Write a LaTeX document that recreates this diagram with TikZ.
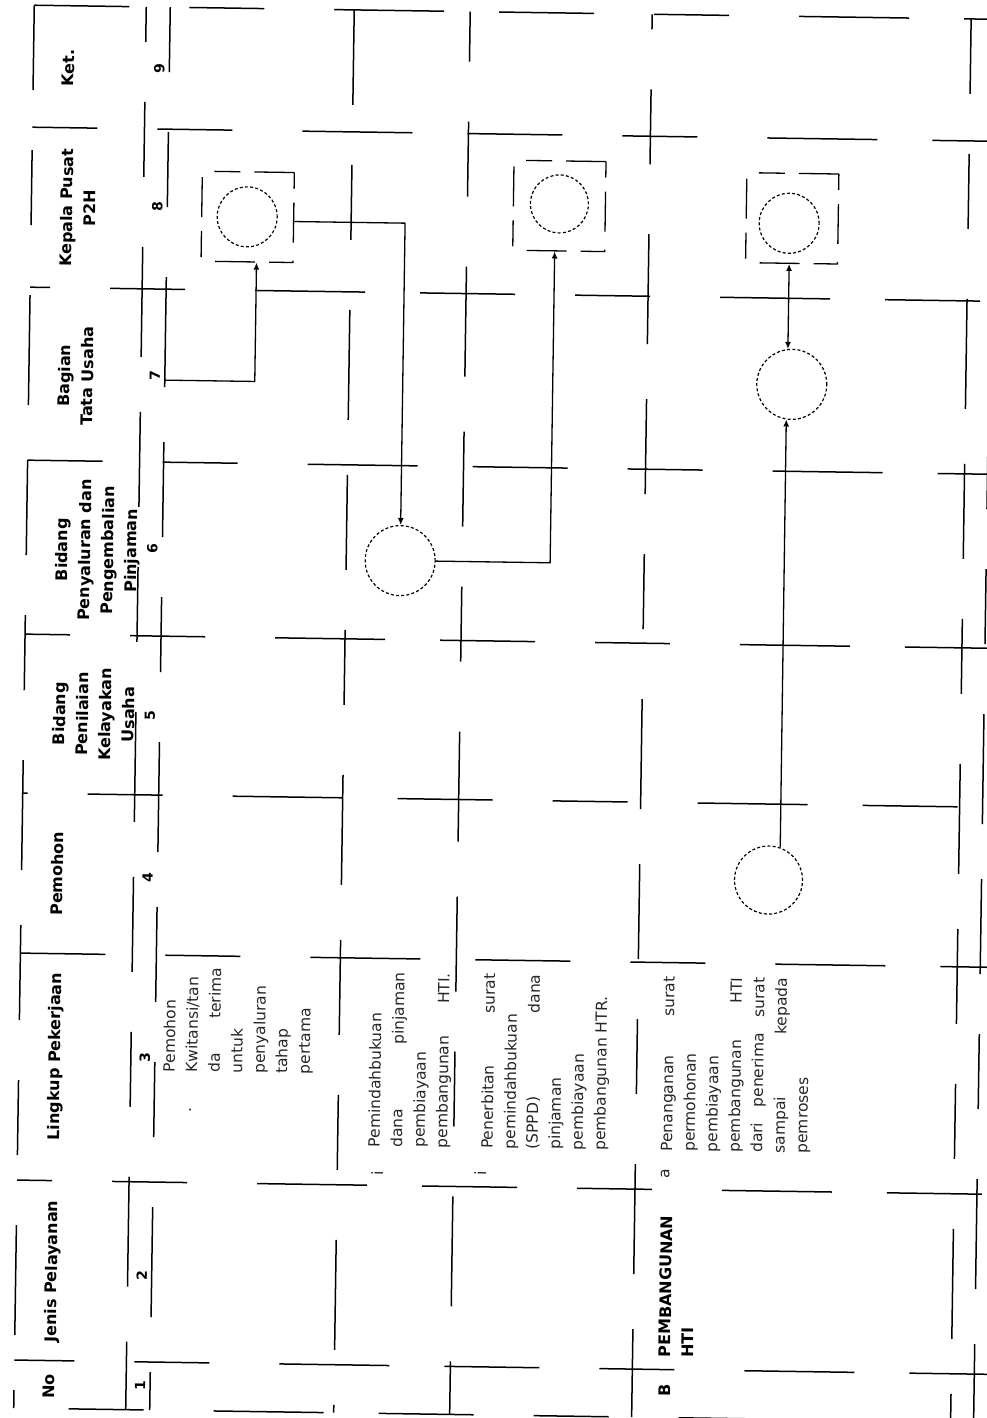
\documentclass[tikz,border=0pt]{standalone}
\usepackage{fontspec}
\setmainfont{DejaVu Sans}
\usetikzlibrary{arrows.meta}
\newcommand{\jst}[2]{\makebox[#1][s]{#2}}
\begin{document}
\begin{tikzpicture}[x=1pt,y=-1pt]
\useasboundingbox (0,0) rectangle (987,1418);
\clip (0,0) rectangle (987,1418);
\begin{scope}[rotate around={-0.84:(493.5,709)}, transform shape,
  gline/.style={line width=1.5pt, dash pattern=on 95pt off 60pt on 75pt off 70pt on 110pt off 55pt},
  frm/.style={draw, line width=1.3pt, dash pattern=on 40pt off 14pt on 26pt off 18pt, minimum width=92pt, minimum height=90pt, inner sep=0pt},
  act/.style={circle, draw, line width=1.2pt, dash pattern=on 3pt off 2.2pt, inner sep=0pt},
  conn/.style={line width=1.3pt, -{Latex[length=7pt,width=6pt]}},
  hdr/.style={rotate=90, anchor=north, align=center, inner sep=0pt, font=\bfseries\fontsize{16}{23}\selectfont},
  num/.style={rotate=90, inner sep=0pt, font=\bfseries\fontsize{14}{16}\selectfont},
  body/.style={rotate=90, anchor=north west, align=left, inner sep=0pt, text=black!85, font=\fontsize{15.5}{22.5}\selectfont},
  lmark/.style={rotate=90, inner sep=0pt, text=black!85, font=\fontsize{15.5}{22.5}\selectfont},
  lbl/.style={rotate=90, anchor=north west, align=left, inner sep=0pt, font=\bfseries\fontsize{16}{23}\selectfont}
]
% table grid
\foreach \v/\p in {12/0,134/30,294/75,467/20,641/50,800/90,960/10,1187/60,1367/35,1415/100}
  \draw[gline, dash phase=\p pt] (24,\v) -- (1000,\v);
\foreach \u/\p in {24/10,136/60,160/30,344/0,460/45,642/80,961/20,984/70}
  \draw[gline, dash phase=\p pt] (\u,12) -- (\u,1415);

% header
\node[hdr] (h9) at (53,74) {Ket.};
\node[hdr] (h8) at (53,214) {Kepala Pusat\\P2H};
\node[hdr] (h7) at (53,382) {Bagian\\Tata Usaha};
\node[hdr] (h6) at (53,556) {Bidang\\Penyaluran dan\\Pengembalian\\Pinjaman};
\node[hdr] (h5) at (53,720) {Bidang\\Penilaian\\Kelayakan\\Usaha};
\node[hdr] (h4) at (53,880) {Pemohon};
\node[hdr] (h3) at (53,1063) {Lingkup Pekerjaan};
\node[hdr] (h2) at (53,1278) {Jenis Pelayanan};
\node[hdr] (h1) at (53,1393) {No};

\node[num] (n9) at (150,74) {9};
\node[num] (n8) at (150,212) {8};
\node[num] (n7) at (150,381) {7};
\node[num] (n6) at (150,554) {6};
\node[num] (n5) at (150,721) {5};
\node[num] (n4) at (150,883) {4};
\node[num] (n3) at (150,1063) {3};
\node[num] (n2) at (150,1281) {2};
\node[num] (n1) at (150,1391) {1};

% body texts
\node[body] (t1) at (168,1077) {Pemohon\\Kwitansi/tan\\\jst{105pt}{da terima}\\untuk\\penyaluran\\tahap\\pertama};
\node[body] (t2) at (374,1149) {Pemindahbukuan\\\jst{175pt}{dana pinjaman}\\pembiayaan\\\jst{175pt}{pembangunan HTI.}};
\node[body] (t3) at (487,1149) {\jst{175pt}{Penerbitan surat}\\pemindahbukuan\\\jst{175pt}{(SPPD) dana}\\pinjaman\\pembiayaan\\pembangunan HTR.};
\node[body] (t4) at (667,1149) {\jst{175pt}{Penanganan surat}\\permohonan\\pembiayaan\\\jst{175pt}{pembangunan HTI}\\\jst{175pt}{dari penerima surat}\\\jst{175pt}{sampai kepada}\\pemroses};

\node[lmark] (m1) at (196,1114) {.};
\node[lmark] (m2) at (384,1175) {i};
\node[lmark] (m3) at (487,1173) {i};
\node[lmark] (m4) at (672,1171) {a};

\node[lbl] (jB) at (668,1355) {PEMBANGUNAN\\HTI};
\node[num, font=\bfseries\fontsize{16}{18}\selectfont] (nB) at (675,1388) {B};

% flow symbols
\node[frm] (f1) at (240.5,220.5) {};
\node[act, minimum size=60pt] (c1) at (240,220.5) {};
\node[act, minimum size=70pt] (c2) at (398,562) {};
\node[frm] (f3) at (552,205) {};
\node[act, minimum size=58pt] (c3) at (552,203) {};
\node[frm] (f4) at (785,214) {};
\node[act, minimum size=60pt] (c4) at (782,219) {};
\node[act, minimum size=70pt] (c5) at (787,380) {};
\node[act, minimum size=68pt] (c6) at (771,876) {};

% connectors
\coordinate (in1) at (160,385);
\draw[conn] (in1) -| ([xshift=9.5pt]f1.south);
\draw[conn] ([yshift=-4pt]f1.east) -| (c2.north);
\draw[conn] (c2.east) -| ([xshift=-4pt]f3.south);
\draw[conn] (c6.71) -- (c5.262);
\draw[conn, {Latex[length=7pt,width=6pt]}-{Latex[length=7pt,width=6pt]}] (c5.97) -- (c5.97 |- f4.south);
\end{scope}
\end{tikzpicture}
\end{document}
